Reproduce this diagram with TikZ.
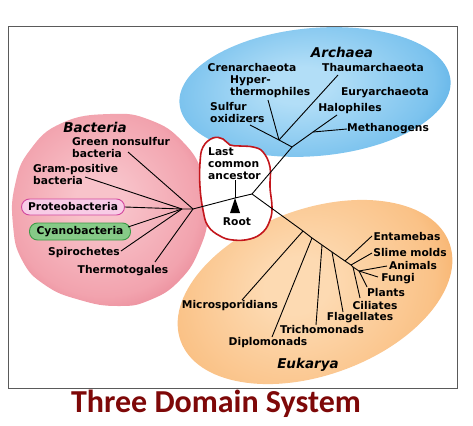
\documentclass[tikz,border=0pt]{standalone}
\usepackage{fontspec}
\setmainfont{DejaVu Sans}
\newfontfamily\titlefont{Carlito}
\usetikzlibrary{positioning}
\definecolor{archaeain}{HTML}{B2DEF7}
\definecolor{archaeamid}{HTML}{7CC3EE}
\definecolor{archaeaout}{HTML}{4AA6E2}
\definecolor{archaeaedge}{HTML}{2C88CC}
\definecolor{bactin}{HTML}{F8C3CA}
\definecolor{bactmid}{HTML}{F2A3AE}
\definecolor{bactout}{HTML}{E57D8E}
\definecolor{bactedge}{HTML}{D25E72}
\definecolor{eukin}{HTML}{FDDAB2}
\definecolor{eukmid}{HTML}{FAC287}
\definecolor{eukout}{HTML}{F5A658}
\definecolor{eukedge}{HTML}{EB8E3A}
\definecolor{lcared}{HTML}{C3161C}
\definecolor{proteofill}{HTML}{F8CCE6}
\definecolor{proteoline}{HTML}{D2479E}
\definecolor{cyanofill}{HTML}{86CA87}
\definecolor{cyanoline}{HTML}{3E9B48}
\definecolor{titlered}{HTML}{7E0808}
\definecolor{framegray}{HTML}{5A5A5A}
\pgfdeclareradialshading{archaeashade}{\pgfpoint{-3bp}{3bp}}{color(0bp)=(archaeain);color(6bp)=(archaeain);color(24bp)=(archaeamid);color(33bp)=(archaeaout);color(36bp)=(archaeaedge);color(50bp)=(archaeaedge)}
\pgfdeclareradialshading{bactshade}{\pgfpoint{-3bp}{3bp}}{color(0bp)=(bactin);color(6bp)=(bactin);color(24bp)=(bactmid);color(33bp)=(bactout);color(36bp)=(bactedge);color(50bp)=(bactedge)}
\pgfdeclareradialshading{eukshade}{\pgfpoint{-3bp}{3bp}}{color(0bp)=(eukin);color(6bp)=(eukin);color(24bp)=(eukmid);color(33bp)=(eukout);color(36bp)=(eukedge);color(50bp)=(eukedge)}

\begin{document}
\begin{tikzpicture}[
  x=1pt,y=-1pt,
  every node/.style={font=\bfseries\fontsize{10.7}{11.5}\selectfont,inner sep=0pt,align=center},
  domainname/.style={font=\bfseries\itshape\fontsize{13.5}{15}\selectfont},
  leftlabel/.style={anchor=west,align=left},
  pill/.style={draw,line width=0.9pt,rounded corners=8pt,minimum height=16pt},
  branch/.style={draw=black,line width=0.9pt}
]
\useasboundingbox (0,0) rectangle (473,425);
% domain blobs
\shade[shading=archaeashade,shading angle=5,rotate around={5:(315,92)}] (315,92) ellipse [x radius=136pt,y radius=64pt];
\shade[shading=bactshade] plot[smooth cycle,tension=0.8] coordinates {(110,114) (150,120) (183,142) (203,175) (208,212) (200,248) (180,280) (150,300) (118,306) (80,300) (45,285) (22,260) (13,225) (15,185) (30,150) (62,123)};
\shade[shading=eukshade,shading angle=20,rotate around={20:(315,292)}] (315,292) ellipse [x radius=143pt,y radius=83pt];
\draw[draw=framegray,line width=0.9pt] (8,26) rectangle (457,388);
% last common ancestor outline
\draw[lcared,line width=1.6pt,fill=white] plot[smooth cycle,tension=0.7] coordinates {(203,147) (213,138) (223,139) (230,145) (240,146) (253,147) (263,152) (270,167) (270,187) (272,207) (270,220) (263,232) (250,239) (233,240) (220,236) (208,226) (203,210) (200,187) (200,163)};
\node[leftlabel,font=\bfseries\fontsize{10.7}{12}\selectfont] (lcatext) at (208,164) {Last\\common\\ancestor};
\node (roottext) at (237,222) {Root};

% hubs
\coordinate (lca) at (252,194);
\coordinate (root) at (235,198);
\coordinate (bhub) at (193,209);
\coordinate (bhubin) at (182,209);
\coordinate (ahub) at (292,147);
\coordinate (crenhub) at (279,140);
\coordinate (euryhub) at (313,132);
\coordinate (microhub) at (303,231);
\coordinate (diplohub) at (312,238);
\coordinate (trichohub) at (322,245);
\coordinate (flagehub) at (332,252);
\coordinate (entahub) at (345,261);
\coordinate (slimehub) at (351,265);
\coordinate (ciliahub) at (353,267);
\coordinate (crown) at (359,271);

% Bacteria
\node[domainname] (bacteria) at (95,127) {Bacteria};
\node[leftlabel] (greenns) at (72,147.5) {Green nonsulfur\\bacteria};
\node[leftlabel] (grampos) at (33,174.5) {Gram-positive\\bacteria};
\node[pill,draw=proteoline,fill=proteofill,minimum width=103pt] (proteo) at (73,207) {Proteobacteria};
\node[pill,draw=cyanoline,fill=cyanofill,minimum width=101pt,minimum height=17pt] (cyano) at (80,231.5) {Cyanobacteria};
\node (spiro) at (84,253) {Spirochetes};
\node (thermo) at (123,271) {Thermotogales};
\coordinate (greentip) at (128,152);
\coordinate (gramtip) at (85,177);
\coordinate (cyanotip) at (128,227);
\coordinate (spirotip) at (121,251);
\coordinate (thermotip) at (155,262);
\draw[branch] (greentip) -- (bhub);
\draw[branch] (thermotip) -- (bhub);
\draw[branch] (gramtip) -- (bhubin);
\draw[branch] (proteo.east) -- (bhubin);
\draw[branch] (cyanotip) -- (bhubin);
\draw[branch] (spirotip) -- (bhubin);
\draw[branch] (bhubin) -- (bhub) -- (root) -- (lca);

% root marker
\draw[branch] (lcatext.south -| root) -- (root);
\fill (root) -- ++(-5,15) -- ++(10,0) -- cycle;

% Archaea
\node[domainname] (archaea) at (342,52) {Archaea};
\node (cren) at (252,68) {Crenarchaeota};
\node (thaum) at (373,68) {Thaumarchaeota};
\node[leftlabel] (hyper) at (230,86.5) {Hyper-\\thermophiles};
\node (eury) at (385,93) {Euryarchaeota};
\node[leftlabel] (sulfur) at (210,112.5) {Sulfur\\oxidizers};
\node (halo) at (350,109) {Halophiles};
\node[anchor=west] (methano) at (347,129) {Methanogens};
\coordinate (sulfurtip) at (250,125);
\coordinate (hypertip) at (268,100);
\coordinate (thaumtip) at (338,75);
\coordinate (halotip) at (337,115);
\draw[branch] (lca) -- (ahub);
\draw[branch] (ahub) -- (crenhub) -- (sulfurtip);
\draw[branch] (hypertip) -- (crenhub);
\draw[branch] (thaumtip) -- (crenhub);
\draw[branch] (ahub) -- (euryhub) -- (halotip);
\draw[branch] (euryhub) -- (methano.west);

% Eukarya
\node[domainname] (eukarya) at (308,365) {Eukarya};
\node (micro) at (230,306) {Microsporidians};
\node (diplo) at (268,343) {Diplomonads};
\node (tricho) at (322,330) {Trichomonads};
\node (flage) at (360,318) {Flagellates};
\node (cilia) at (375,306) {Ciliates};
\node (plants) at (386,293) {Plants};
\node (fungi) at (398,279) {Fungi};
\node (animals) at (413,266) {Animals};
\node (slime) at (410,253) {Slime molds};
\node (enta) at (407,237) {Entamebas};
\coordinate (microtip) at (242,300);
\coordinate (diplotip) at (272,337);
\coordinate (trichotip) at (316,325);
\coordinate (flagetip) at (343,312);
\coordinate (ciliatip) at (360,298);
\coordinate (plantstip) at (367,287);
\coordinate (fungitip) at (378,277);
\coordinate (animalstip) at (387,266);
\coordinate (slimetip) at (372,253);
\coordinate (entatip) at (372,236);
\draw[branch] (lca) -- (microhub) -- (diplohub) -- (trichohub) -- (flagehub) -- (entahub) -- (slimehub) -- (ciliahub) -- (crown);
\draw[branch] (microhub) -- (microtip);
\draw[branch] (diplohub) -- (diplotip);
\draw[branch] (trichohub) -- (trichotip);
\draw[branch] (flagehub) -- (flagetip);
\draw[branch] (ciliahub) -- (ciliatip);
\draw[branch] (entahub) -- (entatip);
\draw[branch] (slimehub) -- (slimetip);
\draw[branch] (crown) -- (plantstip);
\draw[branch] (crown) -- (fungitip);
\draw[branch] (crown) -- (animalstip);

\node[anchor=base,font=\titlefont\bfseries\fontsize{32}{35}\selectfont,text=titlered] (title) at (216,412) {Three Domain System};
\end{tikzpicture}
\end{document}
